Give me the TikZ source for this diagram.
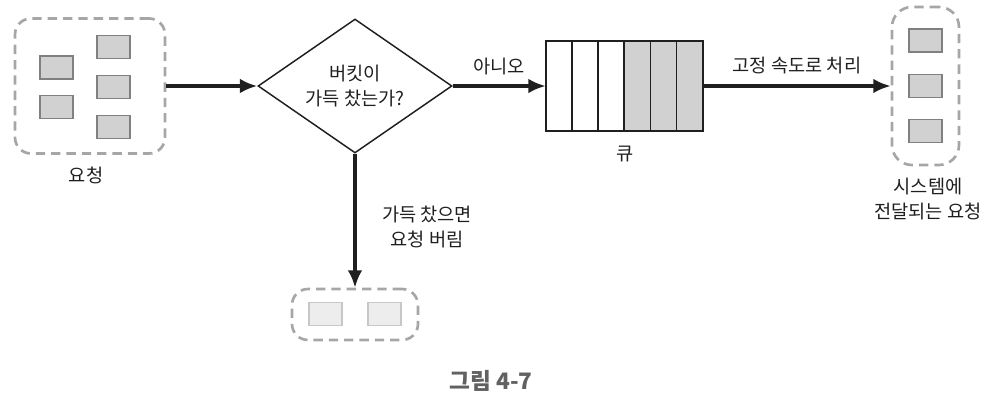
\documentclass[tikz,border=0pt]{standalone}
\usepackage{fontspec}
\setmainfont{Noto Sans CJK KR}
\usetikzlibrary{arrows.meta,shapes.geometric,positioning,calc}

\begin{document}
\begin{tikzpicture}[x=0.75pt,y=0.75pt,font=\fontsize{14}{18.75}\selectfont]
    % Colores
    \colorlet{linecolor}{black!88}
    \colorlet{dashcolor}{black!35}
    \colorlet{reqcolor}{black!18}
    \colorlet{dropcolor}{black!7}

    % Estilos
    \tikzset{
        group/.style={draw=dashcolor, line width=2pt, dash pattern=on 7pt off 4.5pt,
            rounded corners=12pt, inner sep=0pt},
        reqbox/.style={draw=black!50, fill=reqcolor, line width=1pt,
            minimum width=24.75pt, minimum height=17.25pt, inner sep=0pt},
        dropbox/.style={reqbox, draw=black!22, fill=dropcolor},
        flow/.style={linecolor, line width=2.5pt, -{Latex[length=13pt,width=11pt]}},
        label/.style={text=linecolor, align=center, inner sep=2pt}
    }

    % Marco
    \useasboundingbox (0,0) rectangle (996,411);

    % Peticiones
    \node[group, minimum width=112.5pt, minimum height=101.25pt] (requests) at (90,325) {};
    \foreach \x/\y [count=\i] in {56.5/343.5, 56.5/304, 113.5/364, 113.5/324, 113.5/284}
    {
        \node[reqbox] (req\i) at (\x,\y) {};
    }
    \node[label] (reqlabel) at (86,236) {요청};

    % Decision
    \node[diamond, draw=linecolor, line width=1.1pt, inner sep=0pt, aspect=1.45,
        minimum width=145.5pt, minimum height=100.5pt, align=center, text=linecolor]
        (bucket) at (355,325) {버킷이\\가득 찼는가?};

    % Cola
    \node[minimum width=117.75pt, minimum height=67.5pt, inner sep=0pt] (queue) at (624.5,325) {};
    \foreach \i/\c in {0/white,1/white,2/white,3/reqcolor,4/reqcolor,5/reqcolor}
    {
        \draw[linecolor, line width=1.2pt, fill=\c]
            ($(queue.south west)+(\i*26.1667,0)$) rectangle +(26.1667,90);
    }
    \node[label] (queuelabel) at (625,257) {큐};

    % Sistema
    \node[group, rounded corners=15pt, minimum width=50.25pt, minimum height=118.5pt] (system) at (925.5,325) {};
    \foreach \y [count=\i] in {370.5,325,280}
    {
        \node[reqbox] (sys\i) at (925.5,\y) {};
    }
    \node[label] (syslabel) at (928,211.5) {시스템에\\전달되는 요청};

    % Peticiones descartadas
    \node[group, minimum width=94.5pt, minimum height=38.25pt] (dropped) at (355,96.5) {};
    \node[dropbox] (drop1) at (325.5,97) {};
    \node[dropbox] (drop2) at (384.5,97) {};

    % Flechas
    \draw[flow] (requests.east) -- (bucket.west);
    \draw[flow] (bucket.east) -- node[label, above=5pt] {아니오} (queue.west);
    \draw[flow] (queue.east) -- node[label, above=6pt] {고정 속도로 처리} (system.west);
    \draw[flow] (bucket.south) -- node[label, pos=0.55, right=17pt] {가득 찼으면\\요청 버림} (dropped.north);

    % Titulo
    \node[font=\fontsize{17}{20}\selectfont\bfseries, text=black!62] (caption) at (491,30) {그림 4-7};
\end{tikzpicture}
\end{document}
